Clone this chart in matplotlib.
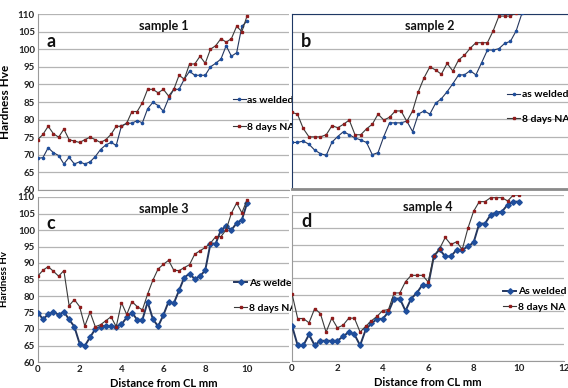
import numpy as np
import matplotlib
matplotlib.use("Agg")
import matplotlib.pyplot as plt

plt.rcParams['font.family'] = ['Lato', 'DejaVu Sans']

# ---------------- data ----------------
x_step = 0.25
x41 = np.arange(41) * x_step
x40 = np.arange(40) * x_step

s1_welded = [69.0, 69.2, 72.0, 70.6, 69.8, 67.4, 69.3, 67.4, 68.0, 67.4, 68.0,
             69.5, 71.5, 72.8, 73.5, 72.7, 78.2, 78.9, 79.0, 79.7, 79.1,
             83.1, 84.9, 84.0, 82.4, 86.0, 88.6, 88.6, 91.5, 93.7, 92.6,
             92.6, 92.6, 95.0, 96.0, 97.2, 101.0, 98.0, 99.0, 106.5, 108.0]
s1_na = [74.3, 75.8, 78.1, 76.0, 75.0, 77.3, 74.3, 73.9, 73.5, 74.3, 75.0,
         74.3, 73.5, 74.3, 75.8, 78.1, 78.1, 79.0, 82.3, 82.3, 84.8,
         88.6, 88.6, 87.6, 88.6, 86.7, 88.6, 92.6, 91.5, 95.8, 95.8,
         98.0, 96.0, 100.0, 101.0, 103.0, 102.0, 103.0, 106.5, 105.0, 109.5]

s2_welded = [73.3, 73.3, 73.7, 72.8, 71.1, 70.1, 69.6, 73.4, 75.0, 76.4, 75.5,
             74.6, 74.0, 73.3, 69.8, 70.4, 75.0, 78.9, 78.9, 78.9, 79.4,
             76.4, 81.4, 82.3, 81.4, 84.5, 85.8, 87.8, 90.1, 92.6, 92.6,
             93.8, 92.6, 96.1, 99.7, 99.7, 100.1, 101.6, 102.2, 105.2, 110.2]
s2_na = [81.9, 81.4, 77.3, 74.9, 74.9, 74.9, 75.5, 78.1, 77.5, 78.5, 79.7,
         75.5, 75.5, 77.2, 78.5, 81.4, 79.7, 80.5, 82.3, 82.3, 79.3,
         82.3, 87.8, 91.8, 94.9, 94.0, 92.8, 95.9, 93.7, 96.9, 98.2,
         100.2, 101.8, 101.8, 101.8, 105.2, 109.4, 109.4, 109.4, 110.4]

s3_welded = [75.0, 73.0, 74.4, 75.2, 74.3, 75.2, 72.9, 70.7, 65.6, 64.9, 67.5,
             70.0, 70.7, 71.0, 70.8, 70.7, 71.4, 73.5, 75.0, 72.8, 72.8,
             78.2, 73.0, 70.8, 74.2, 78.3, 77.8, 81.7, 85.6, 86.8, 85.1,
             86.0, 87.8, 95.9, 95.9, 100.0, 101.1, 100.0, 102.1, 103.1, 108.2]
s3_na = [86.0, 87.8, 88.9, 87.5, 86.0, 87.7, 77.1, 78.9, 76.8, 70.9, 75.1,
         70.7, 71.3, 72.5, 73.7, 70.7, 78.0, 74.4, 78.3, 76.8, 75.8,
         80.6, 84.8, 88.2, 89.6, 90.8, 87.8, 87.7, 88.6, 89.5, 92.7,
         93.7, 94.7, 96.0, 98.0, 98.0, 100.1, 105.1, 108.2, 105.2, 109.2]

s4_welded = [70.6, 64.7, 64.7, 68.0, 64.7, 66.1, 66.1, 66.1, 66.1, 67.4, 68.7,
             68.0, 64.7, 69.5, 71.3, 72.7, 72.7, 74.8, 78.8, 78.8, 75.1,
             78.8, 80.5, 83.0, 82.8, 91.6, 93.6, 91.5, 91.5, 93.5, 93.5,
             94.5, 95.7, 101.4, 101.4, 104.0, 104.7, 105.0, 107.1, 108.0, 108.0]
s4_na = [80.3, 72.8, 72.8, 71.5, 75.8, 74.3, 68.7, 72.9, 70.0, 70.8, 72.9,
         72.9, 68.7, 70.5, 72.1, 73.5, 75.2, 75.5, 80.5, 80.5, 83.9,
         85.8, 85.8, 85.8, 83.8, 91.6, 93.8, 97.2, 95.1, 95.9, 93.6,
         100.0, 105.1, 108.0, 108.0, 109.2, 109.2, 109.2, 108.2, 110.0, 110.0]

titles = ["sample 1", "sample 2", "sample 3", "sample 4"]
letters = ["a", "b", "c", "d"]
welded_labels = ["as welded", "as welded", "As welded", "As welded"]
na_label = "8 days NA"
ylabels = ["Hardness Hve", "Hardness Hv"]
xlabel = "Distance from CL mm"
yticks = list(range(60, 111, 5))
xticks = list(range(0, 13, 2))

# ---------------- layout ----------------
W, H = 568, 388
fig = plt.figure(figsize=(W / 100, H / 100), dpi=100)


def rect(x0, x1, yt, yb):
    return [x0 / W, 1 - yb / H, (x1 - x0) / W, (yb - yt) / H]


rects = [rect(37.7, 289, 14, 190), rect(291.7, 568, 14, 189),
         rect(37.7, 289, 197, 362), rect(292, 564.4, 195, 361)]

panels = [
    (x41, s1_welded, x41, s1_na),
    (x41, s2_welded, x40, s2_na),
    (x41, s3_welded, x41, s3_na),
    (x41, s4_welded, x41, s4_na),
]

leg_pos = [(0.76, 0.56), (0.765, 0.59), (0.765, 0.53), (0.76, 0.47)]
leg_space = [1.7, 1.45, 1.5, 0.6]
grid_c = '#b4b4b4'

for i, (r, (xw, yw, xn, yn)) in enumerate(zip(rects, panels)):
    ax = fig.add_axes(r)
    ax.set_xlim(0, 12)
    ax.set_ylim(60, 110)
    ax.set_yticks(yticks)
    ax.set_xticks(xticks)
    ax.grid(axis='y', color=grid_c, lw=0.9)
    ax.set_axisbelow(True)
    for s in ['top', 'right']:
        ax.spines[s].set_visible(False)
    ax.spines['left'].set_color('#9a9a9a')
    ax.spines['bottom'].set_color('#9a9a9a')
    ax.tick_params(axis='both', length=0, labelsize=7, colors='#222222', pad=2)
    for lab in ax.get_yticklabels() + ax.get_xticklabels():
        lab.set_fontweight('bold')

    thick = i >= 2
    if thick:
        lw_w, ms_w, mk_w = 1.4, 2.8, 'D'
    else:
        lw_w, ms_w, mk_w = 0.8, 1.6, 'o'
    ax.plot(xw, yw, color='#24365e', lw=lw_w, marker=mk_w, ms=ms_w,
            mfc='#1f4e9c', mec='#1f4e9c', label=welded_labels[i], zorder=3)
    ax.plot(xn, yn, color='#3a3a3a', lw=0.8, marker='s', ms=2.0,
            mfc='#8f1d1d', mec='#8f1d1d', label=na_label, zorder=3)

    ax.text(0.5, 0.965, titles[i], transform=ax.transAxes, ha='center', va='top',
            fontsize=9, fontweight='bold', color='#111111')
    ax.text(0.035, 0.89, letters[i], transform=ax.transAxes, ha='left', va='top',
            fontsize=13, fontweight='bold', color='#111111')

    leg = ax.legend(loc='upper left', bbox_to_anchor=leg_pos[i], frameon=False,
                    prop={'weight': 'bold', 'size': 7.5}, handlelength=1.25,
                    handletextpad=0.15, labelspacing=leg_space[i],
                    borderaxespad=0)
    leg.set_zorder(10)

    if i % 2 == 1:
        ax.set_yticklabels([])
    if i < 2:
        ax.set_xticklabels([])
    else:
        ax.set_xlabel(xlabel, fontsize=8, fontweight='bold', labelpad=3)
        if i == 2:
            ax.set_xticks(xticks[:-1])
    if i == 0:
        ax.set_ylabel(ylabels[0], fontsize=8.5, fontweight='bold', labelpad=5)
    if i == 2:
        ax.set_ylabel(ylabels[1], fontsize=7, fontweight='bold', labelpad=6)
    if i == 1:
        ax.spines['left'].set_color('#1f3864')
        ax.spines['top'].set_visible(True)
        ax.spines['top'].set_color('#1f3864')
        ax.spines['bottom'].set_color('#8a8a8a')
        ax.spines['bottom'].set_linewidth(2)

fig.savefig('out.png', dpi=100)
